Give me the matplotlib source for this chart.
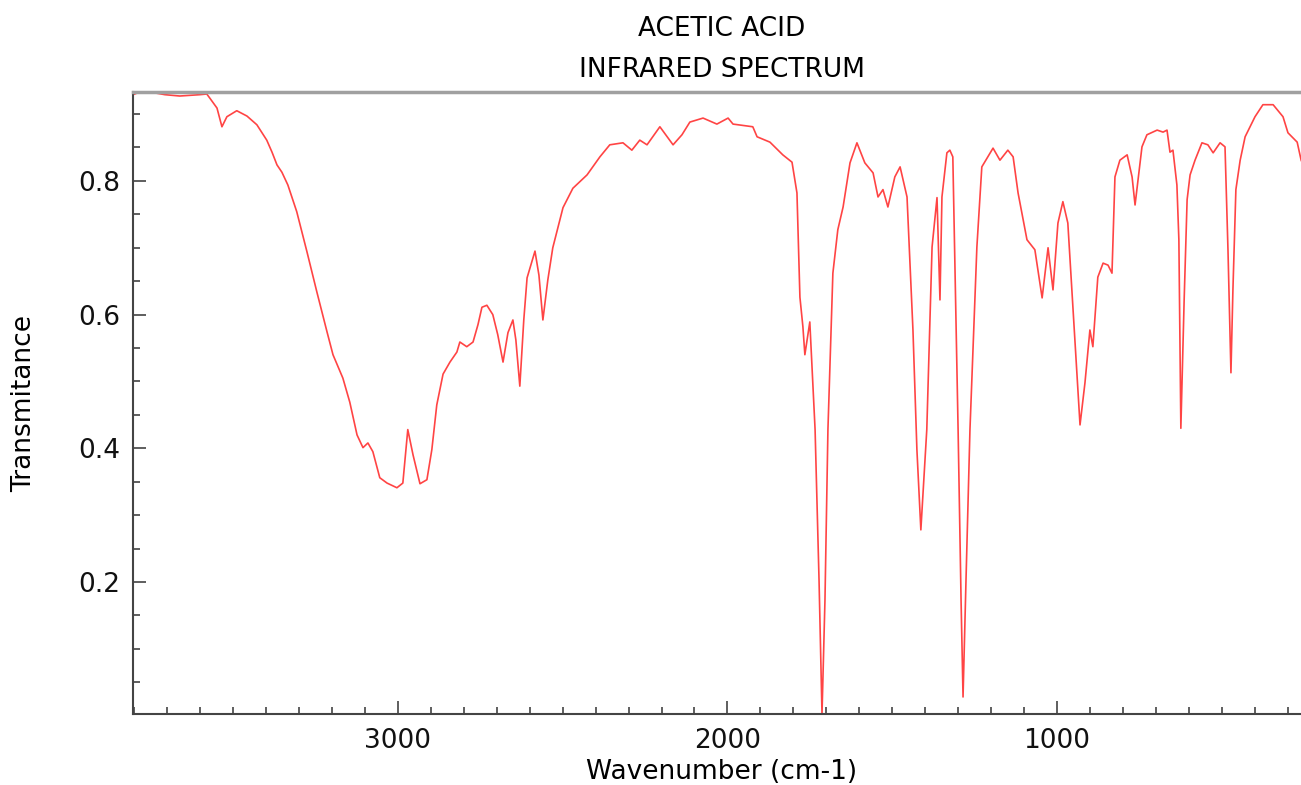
import matplotlib
matplotlib.use("Agg")
import matplotlib.pyplot as plt
from matplotlib.ticker import MultipleLocator

# espectro IR del acido acetico, leido a ojo del grafico original
wavenumber = [3804, 3783, 3753, 3707, 3662, 3601, 3580, 3571, 3549, 3534,
              3519, 3489, 3458, 3428, 3398, 3382, 3367, 3352, 3334, 3307,
              3276, 3246, 3215, 3197, 3167, 3146, 3124, 3106, 3091, 3076,
              3055, 3033, 3003, 2985, 2970, 2954, 2933, 2912, 2897, 2882,
              2863, 2842, 2821, 2812, 2791, 2772, 2757, 2745, 2730, 2712,
              2697, 2681, 2666, 2651, 2642, 2630, 2618, 2608, 2584, 2572,
              2560, 2545, 2530, 2499, 2469, 2426, 2387, 2357, 2317, 2290,
              2266, 2244, 2205, 2165, 2138, 2114, 2074, 2032, 1998, 1983,
              1923, 1910, 1871, 1832, 1804, 1789, 1780, 1771, 1765, 1750,
              1734, 1722, 1713, 1704, 1695, 1680, 1665, 1649, 1628, 1607,
              1583, 1558, 1543, 1528, 1513, 1492, 1476, 1455, 1437, 1425,
              1413, 1404, 1395, 1379, 1364, 1355, 1349, 1334, 1325, 1316,
              1300, 1291, 1285, 1276, 1264, 1243, 1228, 1194, 1173, 1149,
              1133, 1118, 1091, 1067, 1045, 1027, 1012, 997, 982, 967,
              951, 939, 930, 915, 900, 891, 876, 860, 845, 833,
              824, 809, 787, 772, 763, 742, 727, 696, 678, 666,
              657, 648, 636, 630, 624, 614, 605, 596, 581, 560,
              542, 526, 505, 490, 481, 472, 466, 457, 444, 429,
              399, 375, 344, 314, 299, 271, 259, 226]

transmitance = [0.929, 0.933, 0.933, 0.929, 0.927, 0.929, 0.930, 0.924, 0.909, 0.881,
                0.896, 0.905, 0.897, 0.884, 0.861, 0.843, 0.824, 0.813, 0.794, 0.754,
                0.694, 0.634, 0.574, 0.540, 0.505, 0.469, 0.420, 0.401, 0.408, 0.395,
                0.356, 0.348, 0.341, 0.348, 0.428, 0.390, 0.347, 0.353, 0.398, 0.465,
                0.511, 0.529, 0.544, 0.559, 0.552, 0.559, 0.585, 0.611, 0.614, 0.600,
                0.570, 0.529, 0.573, 0.592, 0.562, 0.493, 0.592, 0.655, 0.695, 0.659,
                0.592, 0.652, 0.700, 0.760, 0.789, 0.809, 0.836, 0.854, 0.857, 0.846,
                0.861, 0.854, 0.881, 0.854, 0.869, 0.888, 0.894, 0.885, 0.894, 0.885,
                0.881, 0.866, 0.858, 0.839, 0.828, 0.782, 0.626, 0.582, 0.540, 0.589,
                0.428, 0.203, 0.0026, 0.173, 0.428, 0.662, 0.727, 0.761, 0.827, 0.857,
                0.827, 0.812, 0.776, 0.787, 0.761, 0.806, 0.821, 0.776, 0.577, 0.398,
                0.278, 0.353, 0.428, 0.701, 0.775, 0.622, 0.776, 0.842, 0.846, 0.836,
                0.428, 0.173, 0.028, 0.203, 0.428, 0.701, 0.821, 0.849, 0.831, 0.846,
                0.836, 0.782, 0.712, 0.697, 0.625, 0.700, 0.637, 0.737, 0.769, 0.737,
                0.607, 0.507, 0.435, 0.498, 0.577, 0.552, 0.656, 0.677, 0.674, 0.662,
                0.806, 0.831, 0.839, 0.806, 0.764, 0.851, 0.869, 0.876, 0.873, 0.876,
                0.843, 0.846, 0.794, 0.712, 0.430, 0.622, 0.772, 0.809, 0.831, 0.857,
                0.854, 0.842, 0.857, 0.851, 0.697, 0.513, 0.637, 0.787, 0.831, 0.866,
                0.896, 0.914, 0.914, 0.896, 0.872, 0.858, 0.831, 0.794]

x_ticks = [1000, 2000, 3000]
y_ticks = [0.2, 0.4, 0.6, 0.8]


def main():
    fig = plt.figure(figsize=(13.01, 7.85), dpi=100)
    # el eje se sale un poco por la derecha, como en la imagen original
    ax = fig.add_axes([0.1022, 0.0904, 0.9055, 0.7924])

    ax.plot(wavenumber, transmitance, color="#ff4444", lw=1.2)

    ax.set_xlim(3804, 229)
    ax.set_ylim(0.0025, 0.933)

    ax.set_xticks(x_ticks)
    ax.set_yticks(y_ticks)
    ax.xaxis.set_minor_locator(MultipleLocator(100))
    ax.yaxis.set_minor_locator(MultipleLocator(0.05))
    ax.tick_params(which="both", direction="in", colors="#333333", labelcolor="#111111",
                   labelsize=19, top=False, right=False)
    ax.tick_params(which="major", length=9.5, width=1.1)
    ax.tick_params(which="minor", length=5, width=1.1)
    ax.tick_params(axis="x", which="major", pad=10)
    ax.tick_params(axis="y", which="major", pad=9)

    ax.spines["top"].set_color("#a0a0a0")
    ax.spines["top"].set_linewidth(2.5)
    for lado in ["left", "bottom"]:
        ax.spines[lado].set_color("#444444")
        ax.spines[lado].set_linewidth(1.5)
    ax.spines["right"].set_visible(False)

    ax.set_title("ACETIC ACID\nINFRARED SPECTRUM", fontsize=19, linespacing=1.75, pad=11)
    ax.set_xlabel("Wavenumber (cm-1)", fontsize=19, labelpad=4)
    ax.set_ylabel("Transmitance", fontsize=19, labelpad=30)

    fig.savefig("out.png", dpi=100)


if __name__ == "__main__":
    main()
